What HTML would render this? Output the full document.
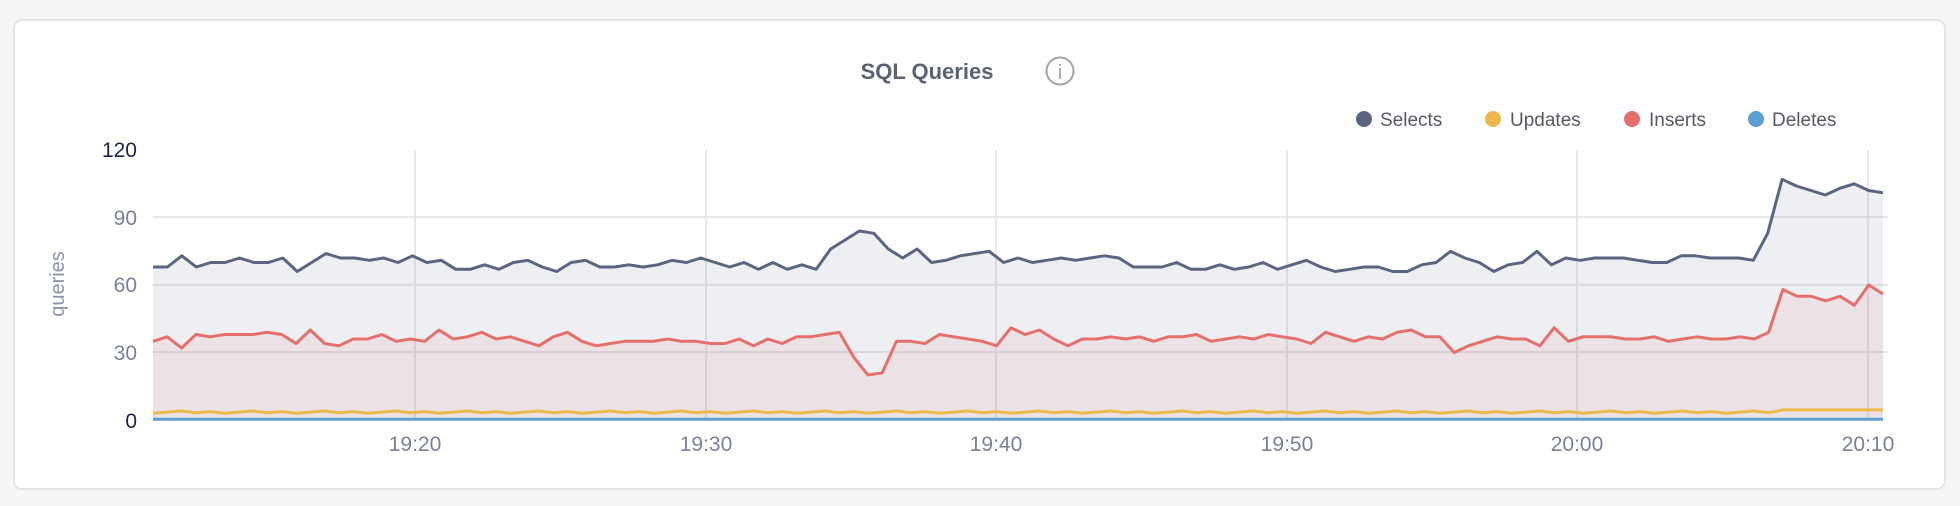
<!DOCTYPE html>
<html><head><meta charset="utf-8">
<style>
html,body{margin:0;padding:0;background:#f5f5f5;width:1960px;height:506px;overflow:hidden;font-family:"Liberation Sans",sans-serif;}
#card{position:absolute;left:13px;top:19px;width:1933px;height:471px;background:#fff;border:2px solid #e4e4e4;border-radius:9px;box-sizing:border-box;}
svg{position:absolute;left:0;top:0;}
</style></head><body>
<div id="card"></div>
<svg id="s" width="1960" height="506" xmlns="http://www.w3.org/2000/svg">
<text x="927" y="79" text-anchor="middle" font-family="Liberation Sans, sans-serif" font-weight="bold" font-size="22" fill="#5b6274">SQL Queries</text>
<circle cx="1060" cy="71" r="13.5" fill="none" stroke="#a0a4ad" stroke-width="2"/>
<text x="1060" y="79" text-anchor="middle" font-family="Liberation Sans, sans-serif" font-size="20" fill="#a0a4ad">i</text>
<g font-family="Liberation Sans, sans-serif" font-size="19" fill="#555a66">
<circle cx="1364" cy="119" r="8" fill="#5a6680"/><text x="1380" y="126">Selects</text>
<circle cx="1493" cy="119" r="8" fill="#ecb94a"/><text x="1510" y="126">Updates</text>
<circle cx="1632" cy="119" r="8" fill="#e5706b"/><text x="1649" y="126">Inserts</text>
<circle cx="1756" cy="119" r="8" fill="#5b9fd3"/><text x="1772" y="126">Deletes</text>
</g>
<g id="grid" stroke="#e8e8e8" stroke-width="2"></g>
<g id="series"></g>
<g font-family="Liberation Sans, sans-serif" font-size="21" text-anchor="end">
<text x="137" y="157" fill="#1d2640">120</text>
<text x="137" y="225" fill="#7a8194">90</text>
<text x="137" y="292" fill="#7a8194">60</text>
<text x="137" y="360" fill="#7a8194">30</text>
<text x="137" y="428" fill="#1d2640">0</text>
</g>
<g font-family="Liberation Sans, sans-serif" font-size="21" text-anchor="middle" fill="#7a8194">
<text x="415" y="451">19:20</text>
<text x="706" y="451">19:30</text>
<text x="996" y="451">19:40</text>
<text x="1287" y="451">19:50</text>
<text x="1577" y="451">20:00</text>
<text x="1868" y="451">20:10</text>
</g>
<text transform="translate(64,284) rotate(-90)" text-anchor="middle" font-family="Liberation Sans, sans-serif" font-size="20" fill="#8a93a8">queries</text>
</svg>
<script>
var NS="http://www.w3.org/2000/svg";
function el(t,a,p){var e=document.createElementNS(NS,t);for(var k in a)e.setAttribute(k,a[k]);p.appendChild(e);return e;}
var g=document.getElementById('grid');
[217,285,352].forEach(function(y){el('line',{x1:153,x2:1888,y1:y,y2:y},g);});
[415,706,996,1287,1577,1868].forEach(function(x){el('line',{x1:x,x2:x,y1:150,y2:420},g);});
var sel=[68,68,73,68,70,70,72,70,70,72,66,70,74,72,72,71,72,70,73,70,71,67,67,69,67,70,71,68,66,70,71,68,68,69,68,69,71,70,72,70,68,70,67,70,67,69,67,76,80,84,83,76,72,76,70,71,73,74,75,70,72,70,71,72,71,72,73,72,68,68,68,70,67,67,69,67,68,70,67,69,71,68,66,67,68,68,66,66,69,70,75,72,70,66,69,70,75,69,72,71,72,72,72,71,70,70,73,73,72,72,72,71,83,107,104,102,100,103,105,102,101];
var ins=[35,37,32,38,37,38,38,38,39,38,34,40,34,33,36,36,38,35,36,35,40,36,37,39,36,37,35,33,37,39,35,33,34,35,35,35,36,35,35,34,34,36,33,36,34,37,37,38,39,28,20,21,35,35,34,38,37,36,35,33,41,38,40,36,33,36,36,37,36,37,35,37,37,38,35,36,37,36,38,37,36,34,39,37,35,37,36,39,40,37,37,30,33,35,37,36,36,33,41,35,37,37,37,36,36,37,35,36,37,36,36,37,36,39,58,55,55,53,55,51,60,56];
var upd=[];for(var i=0;i<ins.length;i++){upd.push(i>ins.length-9?4.5:3+((i*7)%5)*0.25);}
var del=[];for(var i=0;i<ins.length;i++)del.push(0.3);
function pts(a){var n=a.length,s=[];for(var i=0;i<n;i++){s.push((153+i*1730/(n-1)).toFixed(1)+","+(420-a[i]*2.25).toFixed(1));}return s;}
var S=document.getElementById('series');
function area(a,c){var p=pts(a);el('polygon',{points:"153,420 "+p.join(" ")+" 1883,420",fill:c},S);}
function line(a,c){el('polyline',{points:pts(a).join(" "),fill:"none",stroke:c,"stroke-width":3,"stroke-linejoin":"round"},S);}
area(sel,"rgba(90,102,128,0.1)");
area(ins,"rgba(229,112,107,0.1)");
line(sel,"#5a6680");line(ins,"#e5706b");line(upd,"#ecb94a");line(del,"#5b9fd3");
</script>
</body></html>
